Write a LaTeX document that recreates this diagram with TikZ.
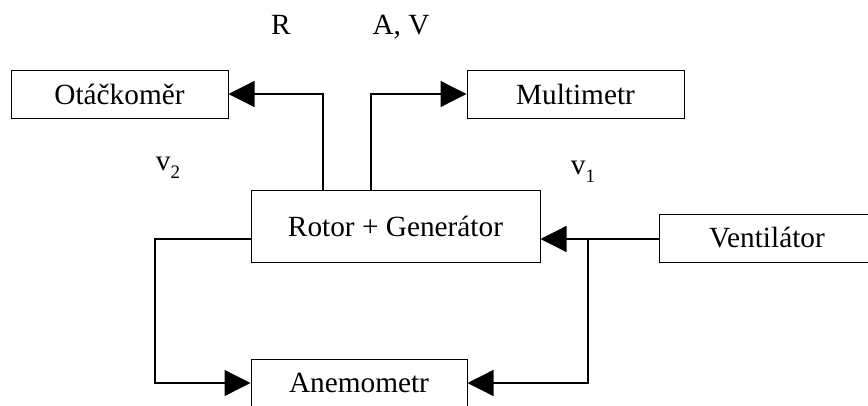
\documentclass[tikz,border=0pt]{standalone}
\usepackage{fontspec}
\setmainfont{Liberation Serif}
\usetikzlibrary{arrows.meta}
\begin{document}
\begin{tikzpicture}[x=1pt,y=-1pt,
  box/.style={draw, line width=1pt, inner sep=0pt, font=\fontsize{29.3}{34}\selectfont},
  conn/.style={line width=1.3pt, -{Triangle[length=26pt,width=26pt]}},
  lbl/.style={font=\fontsize{29.3}{34}\selectfont, inner sep=0pt}]
\useasboundingbox (0,0) rectangle (868,405);
\clip (0,0) rectangle (868,405);
\node[box, minimum width=217pt, minimum height=48pt] (ot) at (119.5,94) {Otáčkoměr};
\node[box, minimum width=217pt, minimum height=48pt] (mm) at (575.5,94) {Multimetr};
\node[box, minimum width=289pt, minimum height=72pt] (rot) at (395.5,226) {Rotor + Generátor};
\node[box, minimum width=216pt, minimum height=48pt] (ven) at (767,238) {Ventilátor};
\node[box, minimum width=216pt, minimum height=48pt] (an) at (359,383) {Anemometr};
\node[lbl] (r) at (281,25) {R};
\node[lbl] (av) at (401,27) {A, V};
\node[lbl] (v2) at (168,168) {v\raisebox{-8pt}{\fontsize{19}{21}\selectfont 2}};
\node[lbl] (v1) at (583,172) {v\raisebox{-8pt}{\fontsize{19}{21}\selectfont 1}};
\coordinate (j) at (588,239);
\coordinate (k) at (155,239);
\draw[conn] ([xshift=-72.5pt]rot.north) |- (ot.east);
\draw[conn] ([xshift=-24.5pt]rot.north) |- (mm.west);
\draw[conn] (ven.west |- j) -- (rot.east |- j);
\draw[conn] (j) |- (an.east);
\draw[conn] (rot.west |- k) -- (k) |- (an.west);
\end{tikzpicture}
\end{document}
